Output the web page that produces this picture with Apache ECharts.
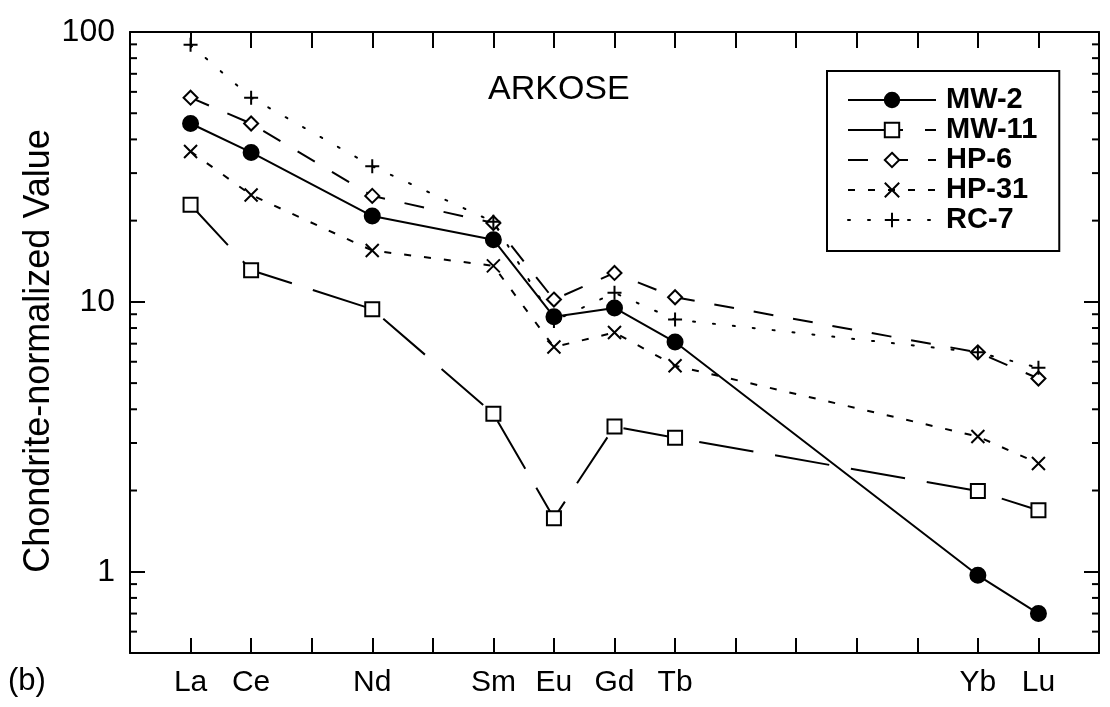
<!DOCTYPE html>
<html>
<head>
<meta charset="utf-8">
<script src="https://cdn.jsdelivr.net/npm/echarts@6/dist/echarts.min.js"></script>
<style>
  html, body { margin: 0; padding: 0; background: #fff; }
  #chart { width: 1110px; height: 707px; }
</style>
</head>
<body>
<div id="chart"></div>
<script>
// Rare earth elements La..Lu along the x axis (by atomic number)
const elements = ['La', 'Ce', 'Pr', 'Nd', 'Pm', 'Sm', 'Eu', 'Gd', 'Tb', 'Dy', 'Ho', 'Er', 'Tm', 'Yb', 'Lu'];
const atomicNumbers = [57, 58, 59, 60, 61, 62, 63, 64, 65, 66, 67, 68, 69, 70, 71];
const analysedElements = ['La', 'Ce', 'Nd', 'Sm', 'Eu', 'Gd', 'Tb', 'Yb', 'Lu'];

// Chondrite-normalized abundances for each sample
const mw2  = [45.8, 35.8, 20.8, 17.0, 8.8, 9.5, 7.1, 0.97, 0.70];
const mw11 = [22.9, 13.1, 9.4, 3.85, 1.58, 3.45, 3.14, 1.99, 1.69];
const hp6  = [57.1, 45.8, 24.7, 19.6, 10.2, 12.8, 10.4, 6.5, 5.2];
const hp31 = [36.1, 24.9, 15.5, 13.6, 6.8, 7.7, 5.8, 3.17, 2.52];
const rc7  = [89.6, 57.1, 31.8, 19.8, 8.5, 10.8, 8.6, 6.5, 5.7];

// Log axis ticks
const yMajorTicks = [1, 10, 100];
const yMinorTicks = [0.6, 0.7, 0.8, 0.9, 2, 3, 4, 5, 6, 7, 8, 9, 20, 30, 40, 50, 60, 70, 80, 90];
const yAxisTitle = 'Chondrite-normalized Value';

const X_MIN = 56, X_MAX = 72, Y_MIN = 0.5, Y_MAX = 100;
const FONT = 'Liberation Sans, Arial, Helvetica, sans-serif';

function toPairs(values) {
  return analysedElements.map((el, i) => [atomicNumbers[elements.indexOf(el)], values[i]]);
}

const CROSS = 'path://M0,0L10,10M10,0L0,10';
const PLUS = 'path://M5,0L5,10M0,5L10,5';

function sampleSeries(name, values, symbol, symbolSize, dash, fill, cap) {
  return {
    name: name,
    type: 'line',
    data: toPairs(values),
    symbol: symbol,
    symbolSize: symbolSize,
    showAllSymbol: true,
    z: 3,
    lineStyle: { color: '#000', width: 2, type: dash, cap: cap || 'butt' },
    itemStyle: { color: fill, borderColor: '#000', borderWidth: 2 },
    emphasis: { disabled: true },
    animation: false
  };
}

const chart = echarts.init(document.getElementById('chart'), null, { renderer: 'canvas' });

const isPow10 = v => Math.abs(Math.log10(v) - Math.round(Math.log10(v))) < 1e-6
  && yMajorTicks.indexOf(Math.round(v)) >= 0;

chart.setOption({
  backgroundColor: '#fff',
  animation: false,
  textStyle: { fontFamily: FONT, color: '#000' },
  grid: { left: 130, right: 11, top: 32, bottom: 54, containLabel: false, outerBoundsMode: 'none' },
  xAxis: [
    {
      type: 'value', min: X_MIN, max: X_MAX, interval: 1, position: 'bottom',
      axisLine: { show: true, lineStyle: { color: '#000', width: 2 } },
      axisTick: { show: true, inside: true, length: 15, lineStyle: { color: '#000', width: 2 } },
      axisLabel: {
        show: true, margin: 15, fontSize: 30, color: '#000', fontFamily: FONT,
        showMinLabel: true, showMaxLabel: true,
        formatter: v => {
          const i = atomicNumbers.indexOf(Math.round(v));
          if (i < 0) return '';
          const el = elements[i];
          return analysedElements.indexOf(el) >= 0 ? el : '';
        }
      },
      splitLine: { show: false }
    },
    {
      type: 'value', min: X_MIN, max: X_MAX, interval: 1, position: 'top',
      axisLine: { show: true, lineStyle: { color: '#000', width: 2 } },
      axisTick: { show: true, inside: true, length: 16, lineStyle: { color: '#000', width: 2 } },
      axisLabel: { show: false },
      splitLine: { show: false }
    }
  ],
  yAxis: [
    {
      type: 'log', logBase: 10, min: Y_MIN, max: Y_MAX, position: 'left',
      axisLine: { show: true, lineStyle: { color: '#000', width: 2 } },
      axisTick: { show: true, inside: true, length: 15, lineStyle: { color: '#000', width: 2 } },
      axisLabel: {
        show: true, margin: 15, fontSize: 32, color: '#000', fontFamily: FONT,
        formatter: v => (isPow10(v) ? String(Math.round(v)) : '')
      },
      splitLine: { show: false }
    },
    {
      type: 'log', logBase: 10, min: Y_MIN, max: Y_MAX, position: 'right',
      axisLine: { show: true, lineStyle: { color: '#000', width: 2 } },
      axisTick: { show: true, inside: true, length: 15, lineStyle: { color: '#000', width: 2 } },
      axisLabel: { show: false },
      splitLine: { show: false }
    }
  ],
  legend: {
    orient: 'vertical',
    left: 827, top: 71,
    data: ['MW-2', 'MW-11', 'HP-6', 'HP-31', 'RC-7'],
    itemWidth: 88, itemHeight: 18, itemGap: 0,
    padding: [14, 22, 16, 20],
    borderColor: '#000', borderWidth: 2, borderRadius: 0,
    backgroundColor: '#fff',
    selectedMode: false,
    textStyle: {
      fontSize: 29, fontWeight: 'bold', color: '#000', fontFamily: FONT,
      lineHeight: 30, padding: [0, 0, 0, 5]
    }
  },
  graphic: [
    {
      // y axis title, rotated
      type: 'text', x: 39, y: 351, rotation: Math.PI / 2,
      style: {
        text: yAxisTitle, font: '36px ' + FONT, fill: '#000',
        align: 'center', verticalAlign: 'middle'
      }
    },
    {
      type: 'text', left: 488, top: 73,
      style: { text: 'ARKOSE', font: '34px ' + FONT, fill: '#000' }
    },
    {
      type: 'text', left: 8, top: 666,
      style: { text: '(b)', font: '31px ' + FONT, fill: '#000' }
    }
  ],
  series: [
    sampleSeries('MW-2', mw2, 'circle', 15, 'solid', '#000'),
    sampleSeries('MW-11', mw11, 'rect', 14, [55, 22], '#fff'),
    sampleSeries('HP-6', hp6, 'diamond', 14, [20, 20], '#fff'),
    sampleSeries('HP-31', hp31, CROSS, 13, [7, 13], 'none'),
    sampleSeries('RC-7', rc7, PLUS, 14, [2, 18], 'none', 'round'),
    {
      // minor log ticks on the left and right frame edges
      name: 'minorTicks',
      type: 'custom',
      silent: true,
      clip: false,
      z: 4,
      data: yMinorTicks.map(v => [X_MIN, v]),
      encode: { x: 0, y: 1 },
      renderItem: (params, api) => {
        const left = api.coord([X_MIN, api.value(1)]);
        const right = api.coord([X_MAX, api.value(1)]);
        const style = { stroke: '#000', lineWidth: 2 };
        return {
          type: 'group',
          children: [
            { type: 'line', shape: { x1: left[0], y1: left[1], x2: left[0] + 7, y2: left[1] }, style: style },
            { type: 'line', shape: { x1: right[0], y1: right[1], x2: right[0] - 7, y2: right[1] }, style: style }
          ]
        };
      }
    }
  ]
});
</script>
</body>
</html>
